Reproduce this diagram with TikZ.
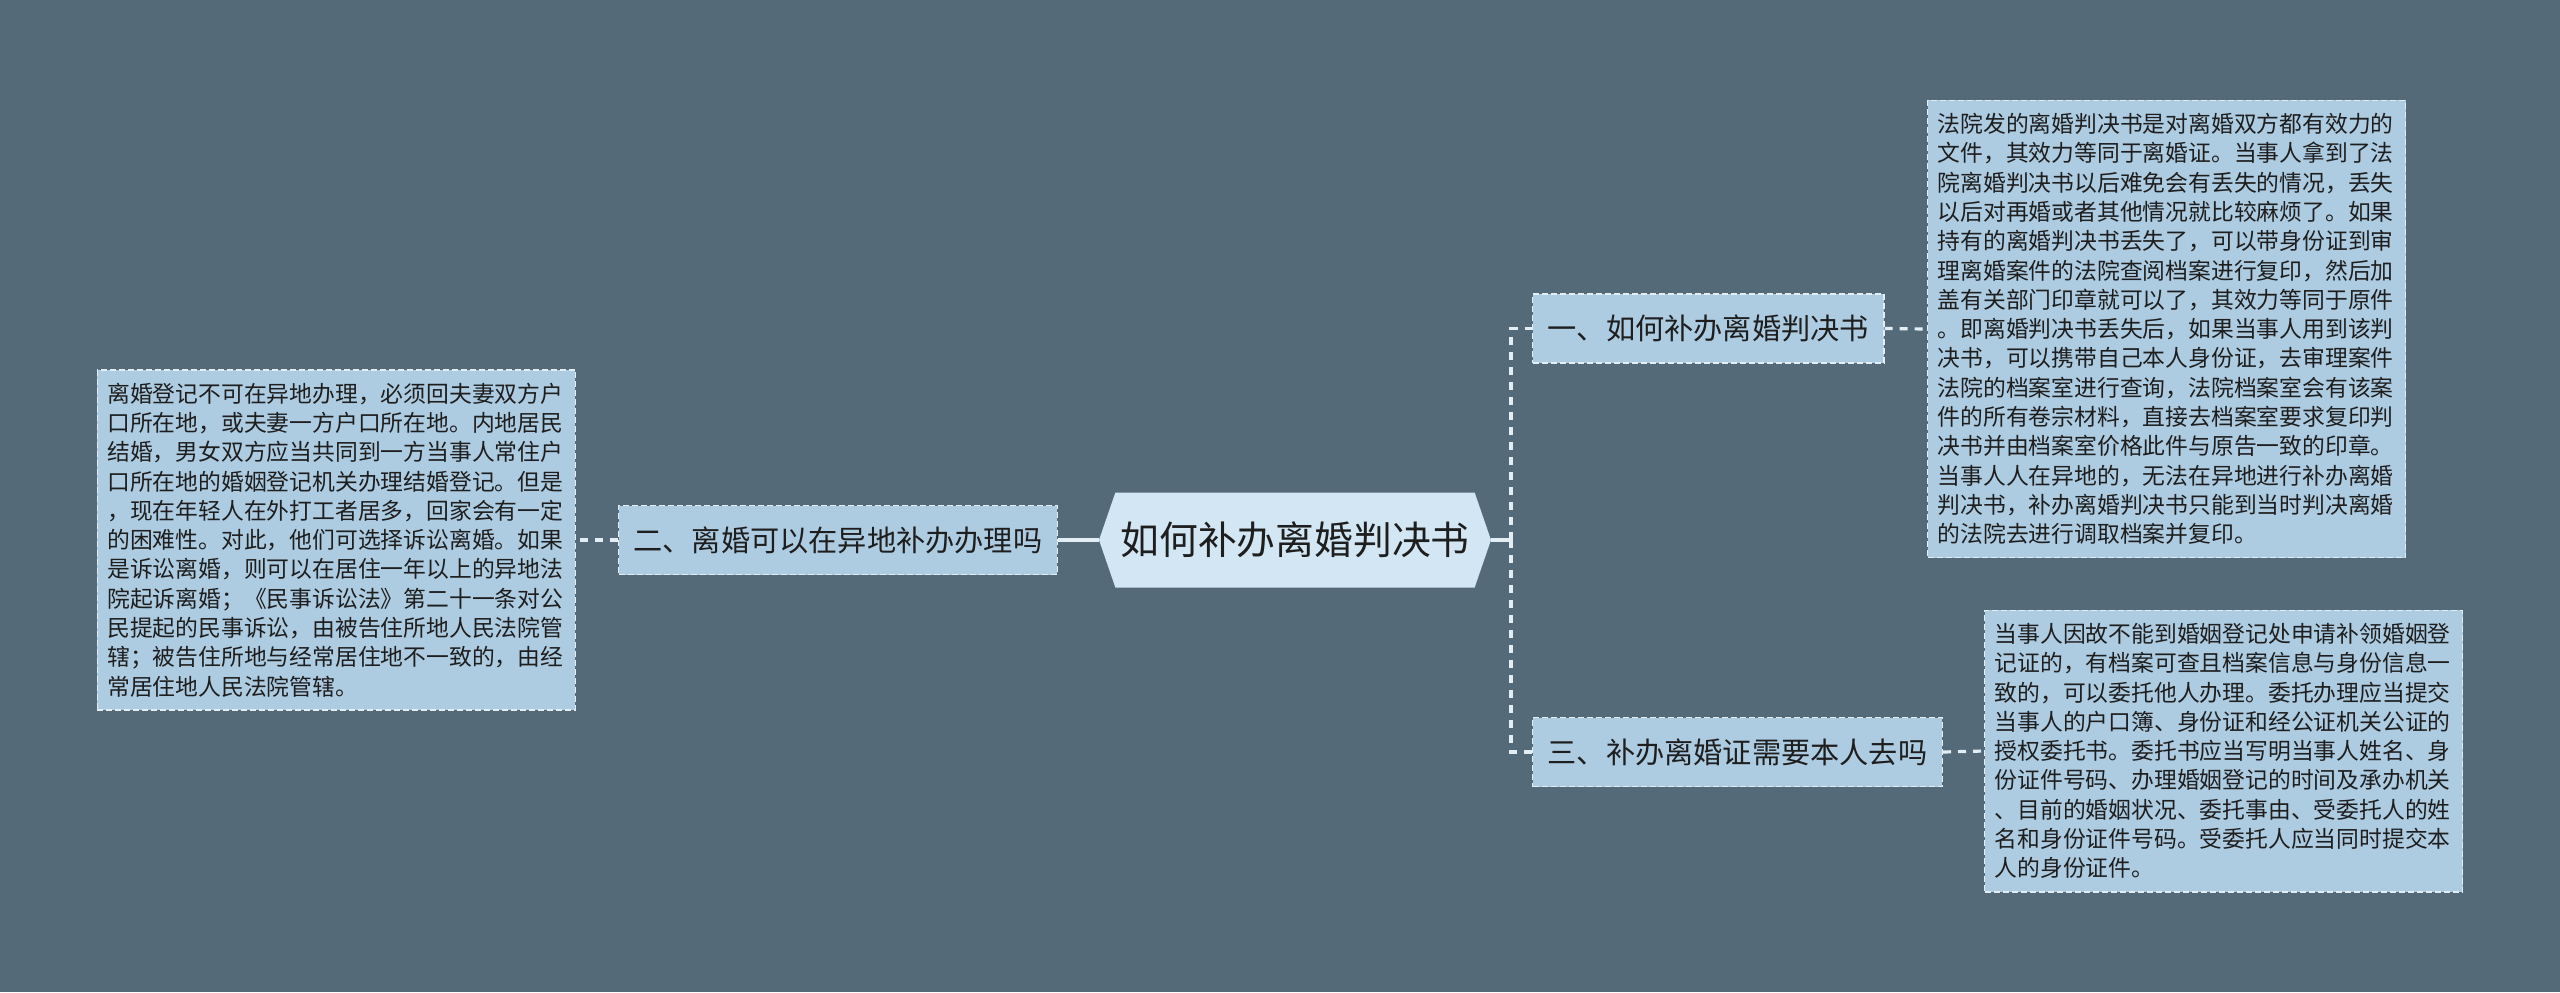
\documentclass[tikz,border=0pt]{standalone}
\usepackage{fontspec}
\newfontfamily\cjk{Noto Sans CJK SC}
\usetikzlibrary{shapes.symbols}
\definecolor{bgcol}{HTML}{546A79}
\definecolor{boxfill}{HTML}{ADCBE1}
\definecolor{rootfill}{HTML}{D2E7F3}
\definecolor{linecol}{HTML}{E2EDF4}
\definecolor{txtcol}{HTML}{1E1E1E}
\tikzset{
  topic/.style={shape=signal, signal to=west and east, signal pointer angle=142,
    fill=rootfill, draw=none, text=txtcol, font=\cjk\fontsize{19.4}{22}\selectfont,
    minimum width=196pt, minimum height=47.5pt, inner sep=0pt},
  subtopic/.style={rectangle, fill=boxfill, draw=linecol, dash pattern=on 3pt off 1.5pt,
    line width=0.7pt, text=txtcol, font=\cjk\fontsize{14.6}{17}\selectfont,
    minimum height=34.5pt, inner xsep=7.5pt},
  leaf/.style={rectangle, fill=boxfill, draw=linecol, dash pattern=on 3pt off 1.5pt,
    line width=0.7pt, text=txtcol, font=\cjk\fontsize{11.4}{14.65}\selectfont,
    align=left, text width=229pt, inner xsep=5pt, inner ysep=6.5pt},
  trunk/.style={draw=linecol, line width=1.8pt},
  branch/.style={draw=linecol, line width=1.6pt, dash pattern=on 4pt off 3.5pt},
}
\begin{document}
\begin{tikzpicture}[x=0.5pt, y=-0.5pt]
    \fill[bgcol] (0,0) rectangle (2560,992);
    \useasboundingbox (0,0) rectangle (2560,992);

    \node[topic] (root) at (1295,540) {如何补办离婚判决书};
    \node[subtopic, anchor=east] (q2) at (1058,540) {二、离婚可以在异地补办办理吗};
    \node[subtopic, anchor=west] (q1) at (1532,328.5) {一、如何补办离婚判决书};
    \node[subtopic, anchor=west] (q3) at (1532,752) {三、补办离婚证需要本人去吗};
    \coordinate (rj) at (1511,540);

    \node[leaf, anchor=east] (a2) at (576,540) {离婚登记不可在异地办理，必须回夫妻双方户\\口所在地，或夫妻一方户口所在地。内地居民\\结婚，男女双方应当共同到一方当事人常住户\\口所在地的婚姻登记机关办理结婚登记。但是\\，现在年轻人在外打工者居多，回家会有一定\\的困难性。对此，他们可选择诉讼离婚。如果\\是诉讼离婚，则可以在居住一年以上的异地法\\院起诉离婚；《民事诉讼法》第二十一条对公\\民提起的民事诉讼，由被告住所地人民法院管\\辖；被告住所地与经常居住地不一致的，由经\\常居住地人民法院管辖。};
    \node[leaf, anchor=west] (a1) at (1927,329) {法院发的离婚判决书是对离婚双方都有效力的\\文件，其效力等同于离婚证。当事人拿到了法\\院离婚判决书以后难免会有丢失的情况，丢失\\以后对再婚或者其他情况就比较麻烦了。如果\\持有的离婚判决书丢失了，可以带身份证到审\\理离婚案件的法院查阅档案进行复印，然后加\\盖有关部门印章就可以了，其效力等同于原件\\。即离婚判决书丢失后，如果当事人用到该判\\决书，可以携带自己本人身份证，去审理案件\\法院的档案室进行查询，法院档案室会有该案\\件的所有卷宗材料，直接去档案室要求复印判\\决书并由档案室价格此件与原告一致的印章。\\当事人人在异地的，无法在异地进行补办离婚\\判决书，补办离婚判决书只能到当时判决离婚\\的法院去进行调取档案并复印。};
    \node[leaf, anchor=west] (a3) at (1984,751) {当事人因故不能到婚姻登记处申请补领婚姻登\\记证的，有档案可查且档案信息与身份信息一\\致的，可以委托他人办理。委托办理应当提交\\当事人的户口簿、身份证和经公证机关公证的\\授权委托书。委托书应当写明当事人姓名、身\\份证件号码、办理婚姻登记的时间及承办机关\\、目前的婚姻状况、委托事由、受委托人的姓\\名和身份证件号码。受委托人应当同时提交本\\人的身份证件。};

    \draw[trunk] (root.west) -- (q2.east);
    \draw[trunk] (root.east) -- (rj);
    \draw[branch] (rj) |- (q1.west);
    \draw[branch] (rj) |- (q3.west);
    \draw[branch] (q2.west) -- (a2.east);
    \draw[branch] (q1.east) -- (a1.west);
    \draw[branch] (q3.east) -- (a3.west);
\end{tikzpicture}
\end{document}
